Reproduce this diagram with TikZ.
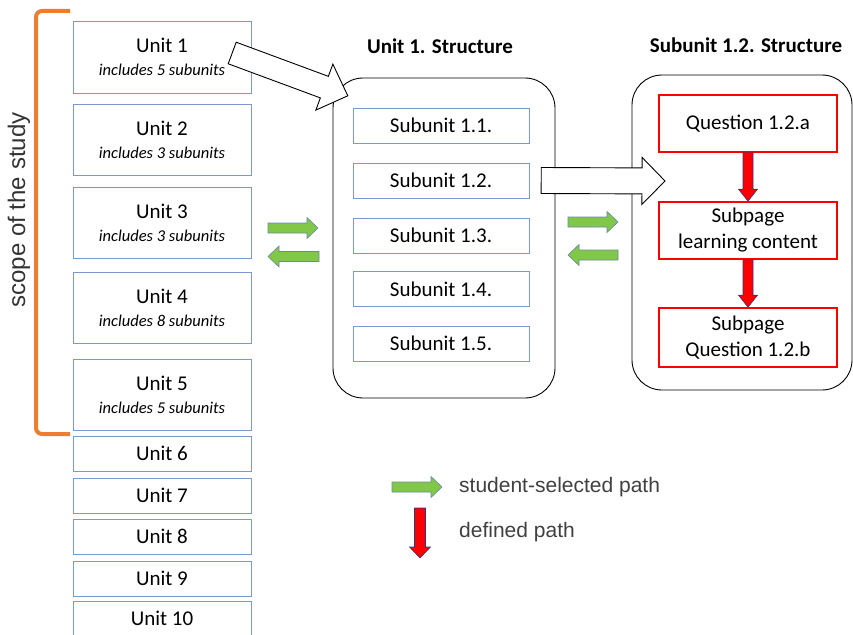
\documentclass[tikz,border=0pt]{standalone}
\usepackage{fontspec}
\setmainfont{Carlito}
\newfontfamily\arialfont{Liberation Sans}
\usetikzlibrary{calc,positioning}
\definecolor{unitblue}{RGB}{125,152,204}
\definecolor{scopeorange}{RGB}{237,125,49}
\definecolor{pathgreen}{RGB}{130,200,72}
\definecolor{greenedge}{RGB}{105,135,165}
\definecolor{rededge}{RGB}{45,55,130}
% block arrow: [style]{from}{to}{shaft half width}{head half width}{head length}
\newcommand{\blockarrow}[6][]{%
  \coordinate (ba-h) at ($(#3)!#6!(#2)$);
  \path[#1] ($(#2)!#4!90:(#3)$) -- ($(ba-h)!#4!90:(#3)$) -- ($(ba-h)!#5!90:(#3)$) -- (#3)
    -- ($(ba-h)!#5!-90:(#3)$) -- ($(ba-h)!#4!-90:(#3)$) -- ($(#2)!#4!-90:(#3)$) -- cycle;}

\begin{document}
\begin{tikzpicture}[x=1pt, y=-1pt,
  unitbox/.style={draw=unitblue, minimum width=178pt, align=center, inner sep=1pt, font=\fontsize{21}{23}\selectfont},
  subbox/.style={draw=unitblue, minimum width=176pt, minimum height=35pt, inner sep=1pt, font=\fontsize{21}{23}\selectfont},
  pagebox/.style={draw=red, line width=1.6pt, minimum width=178pt, align=center, inner sep=1pt, font=\fontsize{21}{26}\selectfont},
  container/.style={draw, rounded corners=30pt, line width=0.9pt},
  heading/.style={font=\bfseries\fontsize{21}{23}\selectfont},
  bigarrow/.style={draw, fill=white, line width=0.9pt},
  selpath/.style={draw=greenedge, fill=pathgreen, line width=0.6pt},
  defpath/.style={draw=rededge, fill=red, line width=0.6pt},
  legendtext/.style={font=\arialfont\fontsize{21}{23}\selectfont, text=black!75, anchor=west, inner sep=0pt}]
    \clip (0,0) rectangle (853,634);
    % units
    \newcommand{\incl}[1]{{\itshape\fontsize{16.5}{18}\selectfont includes #1 subunits}}
    \node[unitbox, minimum height=72pt] (unit1) at (162,57) {Unit 1\\\incl{5}};
    \node[unitbox, minimum height=71pt] (unit2) at (162,139.5) {Unit 2\\\incl{3}};
    \node[unitbox, minimum height=71pt] (unit3) at (162,222.5) {Unit 3\\\incl{3}};
    \node[unitbox, minimum height=71pt] (unit4) at (162,307.5) {Unit 4\\\incl{8}};
    \node[unitbox, minimum height=71pt] (unit5) at (162,394.5) {Unit 5\\\incl{5}};
    \foreach \n/\y in {6/453.5, 7/495.5, 8/536.5, 9/578.5, 10/618.5}
      \node[unitbox, minimum height=35pt] (unit\n) at (162,\y) {Unit \n};
    % scope bracket
    \draw[scopeorange, line width=4pt, rounded corners=6pt] (70,11) -- (36,11) -- (36,434) -- (70,434);
    \node[rotate=90, font=\arialfont\fontsize{24}{24}\selectfont, text=black!80] (scope) at (19,210) {scope of the study};
    % unit 1 structure
    \draw[container] (333,78) rectangle (555,398);
    \node[heading] (unithead) at (440,46) {Unit 1. Structure};
    \foreach \n/\y in {1/125.5, 2/180.5, 3/235.5, 4/289, 5/343.5}
      \node[subbox] (sub\n) at (441,\y) {Subunit 1.\n.};
    % subunit 1.2 structure
    \draw[container] (632,75) rectangle (852,390);
    \node[heading] (subhead) at (746,45) {Subunit 1.2. Structure};
    \node[pagebox, minimum height=57pt] (qa) at (748,123.5) {Question 1.2.a};
    \node[pagebox, minimum height=57pt] (learn) at (748,230.5) {Subpage\\learning content};
    \node[pagebox, minimum height=59pt] (qb) at (748,337.5) {Subpage\\Question 1.2.b};
    % big arrows
    \coordinate (u1tail) at ($(unit1.east)+(-19,-4)$);
    \coordinate (s1tip) at ($(sub1.north west)+(-5,-12)$);
    \blockarrow[bigarrow]{u1tail}{s1tip}{11.5pt}{24.5pt}{25pt}
    \coordinate (s2tail) at ($(sub2.east)+(12,0)$);
    \coordinate (qtip) at (665,181);
    \blockarrow[bigarrow]{s2tail}{qtip}{13pt}{23.5pt}{23pt}
    % defined path
    \blockarrow[defpath]{qa.south}{learn.north}{5pt}{9.5pt}{12pt}
    \blockarrow[defpath]{learn.south}{qb.north}{5pt}{9.5pt}{12pt}
    % student-selected path
    \coordinate (la1) at (268,228);   \coordinate (la2) at (318,228);
    \coordinate (lb1) at (319,256.5); \coordinate (lb2) at (268,256.5);
    \coordinate (ra1) at (568,222);   \coordinate (ra2) at (618,222);
    \coordinate (rb1) at (618,255);   \coordinate (rb2) at (568,255);
    \blockarrow[selpath]{la1}{la2}{5pt}{10.5pt}{11pt}
    \blockarrow[selpath]{lb1}{lb2}{5pt}{10.5pt}{11pt}
    \blockarrow[selpath]{ra1}{ra2}{5pt}{10.5pt}{11pt}
    \blockarrow[selpath]{rb1}{rb2}{5pt}{10.5pt}{11pt}
    % legend
    \coordinate (lg1) at (392,487); \coordinate (lg2) at (442,487);
    \blockarrow[selpath]{lg1}{lg2}{5pt}{10.5pt}{11pt}
    \node[legendtext, right=17pt of lg2] (lgsel) {student-selected path};
    \coordinate (lr1) at (420,508); \coordinate (lr2) at (420,558);
    \blockarrow[defpath]{lr1}{lr2}{5.5pt}{10.5pt}{11pt}
    \node[legendtext] (lgdef) at (459,532) {defined path};
\end{tikzpicture}
\end{document}
